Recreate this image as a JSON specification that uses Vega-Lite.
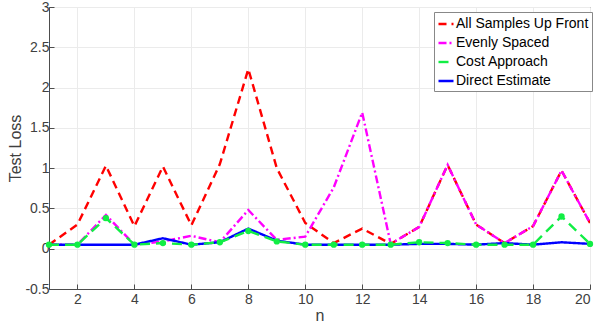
{
  "$schema": "https://vega.github.io/schema/vega-lite/v6.json",
  "autosize": "none",
  "width": 541,
  "height": 282,
  "padding": {"left": 49, "top": 7, "right": 8, "bottom": 41},
  "background": "white",
  "config": {
    "font": "Liberation Sans",
    "view": {"stroke": "#4d4d4d", "strokeWidth": 1},
    "axis": {
      "labelFont": "Liberation Sans",
      "titleFont": "Liberation Sans",
      "labelFontSize": 14,
      "titleFontSize": 16,
      "labelColor": "#404040",
      "titleColor": "#404040",
      "titleFontWeight": "normal",
      "domainColor": "#4d4d4d",
      "tickColor": "#4d4d4d",
      "gridColor": "#ebebeb",
      "gridWidth": 1
    },
    "legend": {"labelFontSize": 14, "labelFont": "Liberation Sans"}
  },
  "data": {
    "values": [
      {"n": 1, "s": "All Samples Up Front", "v": 0.05},
      {"n": 2, "s": "All Samples Up Front", "v": 0.3},
      {"n": 3, "s": "All Samples Up Front", "v": 1.03},
      {"n": 4, "s": "All Samples Up Front", "v": 0.28},
      {"n": 5, "s": "All Samples Up Front", "v": 1.02},
      {"n": 6, "s": "All Samples Up Front", "v": 0.29},
      {"n": 7, "s": "All Samples Up Front", "v": 1.05},
      {"n": 8, "s": "All Samples Up Front", "v": 2.23},
      {"n": 9, "s": "All Samples Up Front", "v": 1.0},
      {"n": 10, "s": "All Samples Up Front", "v": 0.32},
      {"n": 11, "s": "All Samples Up Front", "v": 0.07},
      {"n": 12, "s": "All Samples Up Front", "v": 0.25},
      {"n": 13, "s": "All Samples Up Front", "v": 0.06},
      {"n": 14, "s": "All Samples Up Front", "v": 0.27},
      {"n": 15, "s": "All Samples Up Front", "v": 1.04},
      {"n": 16, "s": "All Samples Up Front", "v": 0.3},
      {"n": 17, "s": "All Samples Up Front", "v": 0.07},
      {"n": 18, "s": "All Samples Up Front", "v": 0.28},
      {"n": 19, "s": "All Samples Up Front", "v": 0.97},
      {"n": 20, "s": "All Samples Up Front", "v": 0.32},
      {"n": 1, "s": "Evenly Spaced", "v": 0.05},
      {"n": 2, "s": "Evenly Spaced", "v": 0.05},
      {"n": 3, "s": "Evenly Spaced", "v": 0.42},
      {"n": 4, "s": "Evenly Spaced", "v": 0.05},
      {"n": 5, "s": "Evenly Spaced", "v": 0.09},
      {"n": 6, "s": "Evenly Spaced", "v": 0.16},
      {"n": 7, "s": "Evenly Spaced", "v": 0.08},
      {"n": 8, "s": "Evenly Spaced", "v": 0.48},
      {"n": 9, "s": "Evenly Spaced", "v": 0.11},
      {"n": 10, "s": "Evenly Spaced", "v": 0.15},
      {"n": 11, "s": "Evenly Spaced", "v": 0.76},
      {"n": 12, "s": "Evenly Spaced", "v": 1.69},
      {"n": 13, "s": "Evenly Spaced", "v": 0.06},
      {"n": 14, "s": "Evenly Spaced", "v": 0.27},
      {"n": 15, "s": "Evenly Spaced", "v": 1.04},
      {"n": 16, "s": "Evenly Spaced", "v": 0.3},
      {"n": 17, "s": "Evenly Spaced", "v": 0.07},
      {"n": 18, "s": "Evenly Spaced", "v": 0.28},
      {"n": 19, "s": "Evenly Spaced", "v": 0.97},
      {"n": 20, "s": "Evenly Spaced", "v": 0.32},
      {"n": 1, "s": "Direct Estimate", "v": 0.05},
      {"n": 2, "s": "Direct Estimate", "v": 0.05},
      {"n": 3, "s": "Direct Estimate", "v": 0.05},
      {"n": 4, "s": "Direct Estimate", "v": 0.05},
      {"n": 5, "s": "Direct Estimate", "v": 0.13},
      {"n": 6, "s": "Direct Estimate", "v": 0.05},
      {"n": 7, "s": "Direct Estimate", "v": 0.08},
      {"n": 8, "s": "Direct Estimate", "v": 0.25},
      {"n": 9, "s": "Direct Estimate", "v": 0.1},
      {"n": 10, "s": "Direct Estimate", "v": 0.05},
      {"n": 11, "s": "Direct Estimate", "v": 0.05},
      {"n": 12, "s": "Direct Estimate", "v": 0.05},
      {"n": 13, "s": "Direct Estimate", "v": 0.05},
      {"n": 14, "s": "Direct Estimate", "v": 0.06},
      {"n": 15, "s": "Direct Estimate", "v": 0.06},
      {"n": 16, "s": "Direct Estimate", "v": 0.05},
      {"n": 17, "s": "Direct Estimate", "v": 0.07},
      {"n": 18, "s": "Direct Estimate", "v": 0.05},
      {"n": 19, "s": "Direct Estimate", "v": 0.08},
      {"n": 20, "s": "Direct Estimate", "v": 0.06},
      {"n": 1, "s": "Cost Approach", "v": 0.05},
      {"n": 2, "s": "Cost Approach", "v": 0.05},
      {"n": 3, "s": "Cost Approach", "v": 0.38},
      {"n": 4, "s": "Cost Approach", "v": 0.05},
      {"n": 5, "s": "Cost Approach", "v": 0.07},
      {"n": 6, "s": "Cost Approach", "v": 0.05},
      {"n": 7, "s": "Cost Approach", "v": 0.08},
      {"n": 8, "s": "Cost Approach", "v": 0.22},
      {"n": 9, "s": "Cost Approach", "v": 0.09},
      {"n": 10, "s": "Cost Approach", "v": 0.05},
      {"n": 11, "s": "Cost Approach", "v": 0.05},
      {"n": 12, "s": "Cost Approach", "v": 0.05},
      {"n": 13, "s": "Cost Approach", "v": 0.05},
      {"n": 14, "s": "Cost Approach", "v": 0.08},
      {"n": 15, "s": "Cost Approach", "v": 0.07},
      {"n": 16, "s": "Cost Approach", "v": 0.05},
      {"n": 17, "s": "Cost Approach", "v": 0.05},
      {"n": 18, "s": "Cost Approach", "v": 0.05},
      {"n": 19, "s": "Cost Approach", "v": 0.4},
      {"n": 20, "s": "Cost Approach", "v": 0.06}
    ]
  },
  "layer": [
    {
      "mark": {"type": "line", "strokeWidth": 2.4, "clip": true},
      "encoding": {
        "x": {
          "field": "n", "type": "quantitative",
          "scale": {"domain": [1, 20], "nice": false, "zero": false},
          "axis": {"title": "n", "values": [2, 4, 6, 8, 10, 12, 14, 16, 18, 20], "tickSize": -5, "labelPadding": 8, "titlePadding": 1, "grid": true}
        },
        "y": {
          "field": "v", "type": "quantitative",
          "scale": {"domain": [-0.5, 3], "nice": false, "zero": false},
          "axis": {"title": "Test Loss", "values": [-0.5, 0, 0.5, 1, 1.5, 2, 2.5, 3], "labelExpr": "datum.value + ''", "tickSize": -5, "labelPadding": 5, "titlePadding": 1, "grid": true}
        },
        "color": {
          "field": "s", "type": "nominal",
          "scale": {
            "domain": ["All Samples Up Front", "Evenly Spaced", "Cost Approach", "Direct Estimate"],
            "range": ["#ff0000", "#ff00ff", "#11ee44", "#0000ff"]
          },
          "legend": {
            "title": null,
            "orient": "none",
            "legendX": 385,
            "legendY": 5,
            "symbolType": "stroke",
            "symbolSize": 225,
            "symbolStrokeWidth": 2.4,
            "labelFontSize": 14,
            "labelColor": "#000000",
            "labelFont": "Liberation Sans",
            "labelOffset": 1,
            "labelLimit": 300,
            "rowPadding": 3,
            "padding": 3,
            "strokeColor": "#888888",
            "fillColor": "white"
          }
        },
        "strokeDash": {
          "field": "s", "type": "nominal",
          "scale": {
            "domain": ["All Samples Up Front", "Evenly Spaced", "Cost Approach", "Direct Estimate"],
            "range": [[8, 5], [8, 3, 2, 3], [10, 6], [1, 0]]
          },
          "legend": null
        },
        "order": {"field": "n", "type": "quantitative"}
      }
    },
    {
      "transform": [{"filter": "datum.s === 'Cost Approach'"}],
      "mark": {"type": "point", "filled": true, "size": 40, "opacity": 1, "color": "#11ee44"},
      "encoding": {
        "x": {"field": "n", "type": "quantitative"},
        "y": {"field": "v", "type": "quantitative"}
      }
    }
  ]
}
